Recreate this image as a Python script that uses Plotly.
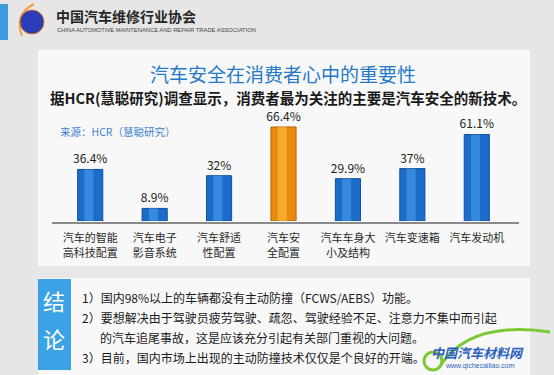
import plotly.graph_objects as go

categories = ["汽车的智能<br>高科技配置", "汽车电子<br>影音系统", "汽车舒适<br>性配置", "汽车安<br>全配置",
              "汽车车身大<br>小及结构", "汽车变速箱", "汽车发动机"]
values = [36.4, 8.9, 32, 66.4, 29.9, 37, 61.1]
value_labels = ["36.4%", "8.9%", "32%", "66.4%", "29.9%", "37%", "61.1%"]
highlight_index = 3

W, H = 554, 375
ML, MR, MT, MB = 58, 45, 110, 154
PW, PH = W - ML - MR, H - MT - MB
FONT = "Noto Sans CJK SC"


def px(x):
    return (x - ML) / PW


def py(y):
    return 1 - (y - MT) / PH


main_colors = ["#e98a0c" if i == highlight_index else "#1c6cc9" for i in range(len(values))]
shine_colors = ["#ffc24a" if i == highlight_index else "#4ea3ef" for i in range(len(values))]
edge_colors = ["#b86200" if i == highlight_index else "#124f9c" for i in range(len(values))]

fig = go.Figure()
fig.add_trace(go.Bar(
    x=categories, y=values, width=0.39,
    marker=dict(color=main_colors, line=dict(color=edge_colors, width=1)),
    text=value_labels, textposition="outside", cliponaxis=False, constraintext="none",
    textfont=dict(family=FONT, size=12, color="#222222"),
    hoverinfo="skip",
))
fig.add_trace(go.Bar(
    x=categories, y=values, width=0.14, offset=-0.09,
    marker=dict(color=shine_colors, opacity=0.55, line=dict(width=0)),
    hoverinfo="skip",
))

shapes = []
# slide background panels
shapes.append(dict(type="rect", xref="paper", yref="paper", x0=px(38), x1=px(530), y0=py(266), y1=py(50),
                   fillcolor="#f8f8f8", line=dict(width=0), layer="below"))
shapes.append(dict(type="rect", xref="paper", yref="paper", x0=px(38), x1=px(530), y0=py(375), y1=py(278),
                   fillcolor="#f8f8f8", line=dict(width=0), layer="below"))
shapes.append(dict(type="rect", xref="paper", yref="paper", x0=px(38), x1=px(71), y0=py(370), y1=py(279),
                   fillcolor="#3ca2e6", line=dict(width=0)))
# left tab
shapes.append(dict(type="rect", xref="paper", yref="paper", x0=px(0), x1=px(8), y0=py(40), y1=py(4),
                   fillcolor="#3c9ae0", line=dict(width=0)))
# logo
shapes.append(dict(type="path", xref="paper", yref="paper",
                   path=f"M {px(22)},{py(36)} Q {px(14)},{py(14)} {px(34)},{py(4)}",
                   line=dict(color="#f0a040", width=2)))
shapes.append(dict(type="circle", xref="paper", yref="paper", x0=px(20), x1=px(44), y0=py(34), y1=py(10),
                   fillcolor="#2b3cb8", line=dict(color="#e07020", width=1)))
# axis floor line
shapes.append(dict(type="line", xref="paper", yref="paper", x0=px(52), x1=px(519), y0=py(223), y1=py(223),
                   line=dict(color="#8a8a8a", width=2)))
# watermark swoosh
shapes.append(dict(type="path", xref="paper", yref="paper",
                   path=f"M {px(440)},{py(366)} Q {px(470)},{py(320)} {px(550)},{py(332)}",
                   line=dict(color="#7cc832", width=3)))
shapes.append(dict(type="circle", xref="paper", yref="paper", x0=px(424), x1=px(442), y0=py(370), y1=py(352),
                   fillcolor="rgba(0,0,0,0)", line=dict(color="#7cc832", width=3)))

ann = []


def text(x, y, s, size, color="#222222", anchor="left", bold=False, family=FONT):
    ann.append(dict(xref="paper", yref="paper", x=px(x), y=py(y), text=f"<b>{s}</b>" if bold else s,
                    showarrow=False, xanchor=anchor, yanchor="middle",
                    font=dict(family=family, size=size, color=color)))


text(54, 16, "中国汽车维修行业协会", 14, "#262626", bold=True)
text(55, 30, "CHINA AUTOMOTIVE MAINTENANCE AND REPAIR TRADE ASSOCIATION", 5.8, "#444444",
     family="Liberation Sans")
text(283, 73, "汽车安全在消费者心中的重要性", 19, "#2479c9", anchor="center")
text(288, 97, "据HCR(慧聪研究)调查显示，消费者最为关注的主要是汽车安全的新技术。", 14.5, "#1a1a1a", bold=True, anchor="center")
text(58, 131, "来源：HCR（慧聪研究）", 10.5, "#3a7fd0")
text(54, 300, "结", 22, "#ffffff", anchor="center")
text(54, 338, "论", 22, "#ffffff", anchor="center")
text(80, 297, "1）国内98%以上的车辆都没有主动防撞（FCWS/AEBS）功能。", 12, "#1a1a1a")
text(80, 317, "2）要想解决由于驾驶员疲劳驾驶、疏忽、驾驶经验不足、注意力不集中而引起", 12, "#1a1a1a")
text(98, 337, "的汽车追尾事故，这是应该充分引起有关部门重视的大问题。", 12, "#1a1a1a")
text(80, 357, "3）目前，国内市场上出现的主动防撞技术仅仅是个良好的开端。", 12, "#1a1a1a")
text(477, 352, "<i>中国汽车材料网</i>", 13, "#2a5fc0", anchor="center", bold=True)
text(480, 366, "www.qichecailiao.com", 7, "#2a5fc0", anchor="center", family="Liberation Sans")

fig.update_layout(
    width=W, height=H,
    margin=dict(l=ML, r=MR, t=MT, b=MB),
    paper_bgcolor="#e6e6e6", plot_bgcolor="rgba(0,0,0,0)",
    barmode="overlay", showlegend=False,
    shapes=shapes, annotations=ann,
    xaxis=dict(range=[-0.5, 6.5], showgrid=False, showline=False, zeroline=False,
               ticks="outside", ticklen=7, tickcolor="rgba(0,0,0,0)",
               tickfont=dict(family=FONT, size=11, color="#2a2a2a"), fixedrange=True),
    yaxis=dict(range=[0, 78.4], showgrid=False, showline=False, zeroline=False, showticklabels=False,
               fixedrange=True),
)

fig.write_html("out.html", config={"displayModeBar": False},
               post_script="document.body.style.margin='0';document.body.style.background='#e6e6e6';")
